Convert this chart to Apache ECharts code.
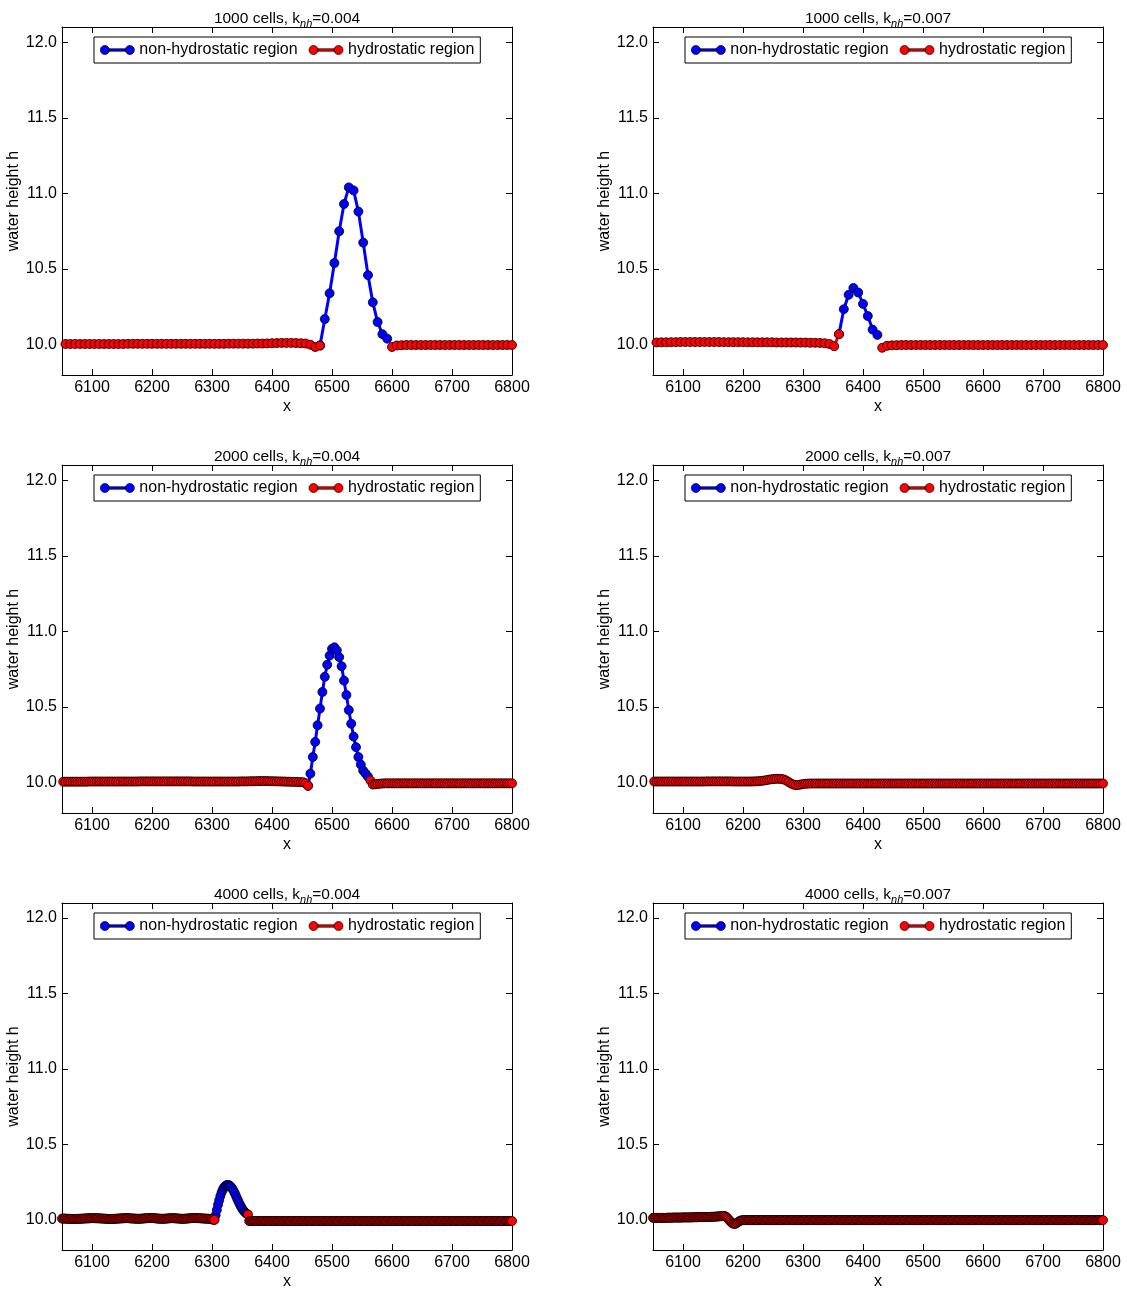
<!DOCTYPE html>
<html><head><meta charset="utf-8">
<script src="https://cdn.jsdelivr.net/npm/echarts@6/dist/echarts.min.js"></script>
<style>html,body{margin:0;padding:0;background:#fff}#chart{width:1127px;height:1291px}</style>
</head><body><div id="chart"></div>
<script>
// ---------- axis / tick definitions ----------
const X_MIN = 6050, X_MAX = 6800;
const Y_MIN = 9.8, Y_MAX = 12.1;
const xTicks = [6100, 6200, 6300, 6400, 6500, 6600, 6700, 6800];
const yTicks = [10.0, 10.5, 11.0, 11.5, 12.0];
const seriesNames = ['non-hydrostatic region', 'hydrostatic region'];
const panelTitles = [
  '{t|1000 cells, k}{sub|nh}{t|=0.004}', '{t|1000 cells, k}{sub|nh}{t|=0.007}',
  '{t|2000 cells, k}{sub|nh}{t|=0.004}', '{t|2000 cells, k}{sub|nh}{t|=0.007}',
  '{t|4000 cells, k}{sub|nh}{t|=0.004}', '{t|4000 cells, k}{sub|nh}{t|=0.007}'
];

// ---------- cell grids (first cell x, spacing) ----------
const grid1000 = [6048, 8];
const grid2000 = [6048, 4];
const grid4000 = [6050, 2];

// ---------- water height h (one value per cell) ----------
const h1000_k004 = [
10.005,10.005,10.005,10.005,10.005,10.005,10.005,10.005,10.005,10.005,
10.005,10.005,10.005,10.005,10.006,10.006,10.006,10.006,10.006,10.006,
10.006,10.006,10.006,10.006,10.006,10.006,10.006,10.006,10.006,10.006,
10.006,10.006,10.006,10.006,10.006,10.007,10.007,10.007,10.007,10.007,
10.007,10.008,10.008,10.009,10.010,10.011,10.012,10.012,10.012,10.011,
10.010,10.008,10.000,9.985,9.995,10.17,10.34,10.54,10.75,10.93,
11.04,11.02,10.88,10.675,10.46,10.28,10.15,10.07,10.04,9.985,
9.995,9.997,9.998,9.998,9.998,9.998,9.998,9.998,9.998,9.998,
9.998,9.998,9.998,9.998,9.998,9.998,9.998,9.998,9.998,9.998,
9.998,9.998,9.998,9.998,9.998
];
const nh1000_k004 = [6480, 6592];

const h1000_k007 = [
10.015,10.015,10.016,10.016,10.017,10.017,10.018,10.018,10.018,10.018,
10.018,10.018,10.018,10.018,10.018,10.017,10.017,10.017,10.017,10.017,
10.016,10.016,10.016,10.016,10.016,10.016,10.015,10.015,10.015,10.015,
10.015,10.014,10.014,10.013,10.013,10.012,10.010,10.005,9.990,10.070,
10.235,10.33,10.375,10.345,10.27,10.19,10.10,10.065,9.980,9.993,
9.996,9.997,9.998,9.998,9.998,9.998,9.998,9.998,9.998,9.998,
9.998,9.998,9.998,9.998,9.998,9.998,9.998,9.998,9.998,9.998,
9.998,9.998,9.998,9.998,9.998,9.998,9.998,9.998,9.998,9.998,
9.998,9.998,9.998,9.998,9.998,9.998,9.998,9.998,9.998,9.998,
9.998,9.998,9.998,9.998,9.998
];
const nh1000_k007 = [6360, 6424];

const h2000_k004 = [
10.007,10.007,10.007,10.007,10.007,10.007,10.007,10.007,10.007,10.007,
10.007,10.007,10.008,10.008,10.008,10.008,10.008,10.008,10.008,10.008,
10.008,10.008,10.008,10.008,10.008,10.008,10.008,10.008,10.008,10.008,
10.008,10.008,10.008,10.009,10.009,10.009,10.009,10.009,10.009,10.009,
10.009,10.009,10.009,10.009,10.009,10.009,10.009,10.009,10.009,10.009,
10.009,10.009,10.009,10.009,10.009,10.008,10.008,10.008,10.008,10.008,
10.008,10.008,10.008,10.008,10.008,10.008,10.008,10.008,10.008,10.008,
10.008,10.008,10.008,10.008,10.008,10.009,10.009,10.009,10.009,10.010,
10.010,10.010,10.011,10.011,10.011,10.011,10.011,10.010,10.010,10.010,
10.009,10.009,10.008,10.008,10.007,10.007,10.006,10.006,10.005,10.005,
10.004,10.003,9.997,9.980,10.06,10.17,10.27,10.38,10.49,10.60,
10.70,10.78,10.84,10.885,10.895,10.875,10.83,10.77,10.675,10.58,
10.48,10.39,10.305,10.235,10.17,10.12,10.08,10.06,10.04,10.015,
9.988,9.990,9.992,9.994,9.995,9.996,9.996,9.996,9.996,9.996,
9.996,9.996,9.996,9.996,9.996,9.996,9.996,9.996,9.996,9.996,
9.996,9.996,9.996,9.996,9.996,9.996,9.996,9.996,9.996,9.996,
9.996,9.996,9.996,9.996,9.996,9.996,9.996,9.996,9.996,9.996,
9.996,9.996,9.996,9.996,9.996,9.996,9.996,9.996,9.996,9.996,
9.996,9.996,9.996,9.996,9.996,9.996,9.996,9.996,9.996
];
const nh2000_k004 = [6460, 6560];

const h2000_k007 = [
10.008,10.008,10.008,10.008,10.008,10.008,10.008,10.008,10.008,10.008,
10.008,10.008,10.008,10.008,10.008,10.008,10.008,10.008,10.008,10.008,
10.008,10.008,10.008,10.009,10.009,10.009,10.009,10.009,10.009,10.009,
10.009,10.009,10.009,10.009,10.008,10.008,10.008,10.008,10.008,10.008,
10.008,10.008,10.009,10.009,10.010,10.011,10.013,10.015,10.018,10.021,
10.023,10.025,10.026,10.026,10.025,10.022,10.015,10.005,9.995,9.988,
9.984,9.985,9.988,9.991,9.993,9.994,9.995,9.995,9.995,9.995,
9.995,9.995,9.995,9.995,9.995,9.995,9.995,9.995,9.995,9.995,
9.995,9.995,9.995,9.995,9.995,9.995,9.995,9.995,9.995,9.995,
9.995,9.995,9.995,9.995,9.995,9.995,9.995,9.995,9.995,9.995,
9.995,9.995,9.995,9.995,9.995,9.995,9.995,9.995,9.995,9.995,
9.995,9.995,9.995,9.995,9.995,9.995,9.995,9.995,9.995,9.995,
9.995,9.995,9.995,9.995,9.995,9.995,9.995,9.995,9.995,9.995,
9.995,9.995,9.995,9.995,9.995,9.995,9.995,9.995,9.995,9.995,
9.995,9.995,9.995,9.995,9.995,9.995,9.995,9.995,9.995,9.995,
9.995,9.995,9.995,9.995,9.995,9.995,9.995,9.995,9.995,9.995,
9.995,9.995,9.995,9.995,9.995,9.995,9.995,9.995,9.995,9.995,
9.995,9.995,9.995,9.995,9.995,9.995,9.995,9.995,9.995,9.995,
9.995,9.995,9.995,9.995,9.995,9.995,9.995,9.995,9.995
];
const nh2000_k007 = null;

const h4000_k004 = [
10.008,10.008,10.008,10.008,10.007,10.007,10.007,10.006,10.006,10.006,
10.006,10.006,10.006,10.006,10.007,10.007,10.007,10.008,10.008,10.009,
10.009,10.010,10.010,10.010,10.011,10.011,10.011,10.011,10.011,10.010,
10.010,10.010,10.009,10.009,10.008,10.008,10.007,10.007,10.006,10.006,
10.006,10.006,10.006,10.006,10.007,10.007,10.008,10.008,10.009,10.009,
10.010,10.010,10.011,10.011,10.011,10.011,10.010,10.010,10.009,10.009,
10.008,10.008,10.007,10.007,10.007,10.007,10.008,10.008,10.009,10.010,
10.010,10.011,10.012,10.012,10.012,10.012,10.011,10.011,10.010,10.009,
10.008,10.008,10.007,10.007,10.007,10.007,10.008,10.008,10.009,10.010,
10.010,10.011,10.011,10.011,10.010,10.010,10.009,10.008,10.008,10.007,
10.007,10.007,10.007,10.008,10.008,10.009,10.010,10.011,10.011,10.012,
10.012,10.012,10.012,10.011,10.011,10.010,10.010,10.009,10.009,10.008,
10.008,10.007,10.007,10.006,10.005,10.003,10.001,10.000,
10.03,10.065,10.10,10.13,10.158,10.182,10.20,10.214,10.223,10.229,
10.231,10.23,10.225,10.217,10.206,10.192,10.176,10.158,10.14,10.122,
10.105,10.09,10.076,10.064,10.054,10.046,10.04,
10.035,9.992,
9.992,9.992,9.992,9.992,9.992,9.992,9.992,9.992,9.992,9.992,
9.992,9.992,9.992,9.992,9.992,9.992,9.992,9.992,9.992,9.992,
9.992,9.992,9.992,9.992,9.992,9.992,9.992,9.992,9.992,9.992,
9.992,9.992,9.992,9.992,9.992,9.992,9.992,9.992,9.992,9.992,
9.992,9.992,9.992,9.992,9.992,9.992,9.992,9.992,9.992,9.992,
9.992,9.992,9.992,9.992,9.992,9.992,9.992,9.992,9.992,9.992,
9.992,9.992,9.992,9.992,9.992,9.992,9.992,9.992,9.992,9.992,
9.992,9.992,9.992,9.992,9.992,9.992,9.992,9.992,9.992,9.992,
9.992,9.992,9.992,9.992,9.992,9.992,9.992,9.992,9.992,9.992,
9.992,9.992,9.992,9.992,9.992,9.992,9.992,9.992,9.992,9.992,
9.992,9.992,9.992,9.992,9.992,9.992,9.992,9.992,9.992,9.992,
9.992,9.992,9.992,9.992,9.992,9.992,9.992,9.992,9.992,9.992,
9.992,9.992,9.992,9.992,9.992,9.992,9.992,9.992,9.992,9.992,
9.992,9.992,9.992,9.992,9.992,9.992,9.992,9.992,9.992,9.992,
9.992,9.992,9.992,9.992,9.992,9.992,9.992,9.992,9.992,9.992,
9.992,9.992,9.992,9.992,9.992,9.992,9.992,9.992,9.992,9.992,
9.992,9.992,9.992,9.992,9.992,9.992,9.992,9.992,9.992,9.992,
9.992,9.992,9.992,9.992,9.992,9.992,9.992,9.992,9.992,9.992,
9.992,9.992,9.992,9.992,9.992,9.992,9.992,9.992,9.992,9.992,
9.992,9.992,9.992,9.992,9.992,9.992,9.992,9.992,9.992,9.992,
9.992,9.992,9.992,9.992,9.992,9.992,9.992,9.992,9.992,9.992,
9.992,9.992,9.992,9.992,9.992,9.992,9.992,9.992,9.992
];
const nh4000_k004 = [6304, 6358];

const h4000_k007 = [
10.013,10.013,10.013,10.013,10.013,10.013,10.013,10.013,10.013,10.013,
10.013,10.013,10.014,10.014,10.014,10.014,10.014,10.015,10.015,10.015,
10.015,10.015,10.015,10.015,10.015,10.016,10.016,10.016,10.016,10.016,
10.016,10.016,10.016,10.017,10.017,10.017,10.017,10.017,10.018,10.018,
10.018,10.018,10.018,10.018,10.019,10.019,10.019,10.019,10.020,10.020,
10.020,10.021,10.021,10.022,10.022,10.023,10.024,10.024,10.025,10.025,
10.024,10.020,10.012,10.003,9.994,9.985,9.978,9.974,9.973,9.975,
9.980,9.986,9.991,9.995,9.997,9.998,9.998,9.998,9.998,9.998,
9.998,9.998,9.998,9.998,9.998,9.998,9.998,9.998,9.998,9.998,
9.998,9.998,9.998,9.998,9.998,9.998,9.998,9.998,9.998,9.998,
9.998,9.998,9.998,9.998,9.998,9.998,9.998,9.998,9.998,9.998,
9.998,9.998,9.998,9.998,9.998,9.998,9.998,9.998,9.998,9.998,
9.998,9.998,9.998,9.998,9.998,9.998,9.998,9.998,9.998,9.998,
9.998,9.998,9.998,9.998,9.998,9.998,9.998,9.998,9.998,9.998,
9.998,9.998,9.998,9.998,9.998,9.998,9.998,9.998,9.998,9.998,
9.998,9.998,9.998,9.998,9.998,9.998,9.998,9.998,9.998,9.998,
9.998,9.998,9.998,9.998,9.998,9.998,9.998,9.998,9.998,9.998,
9.998,9.998,9.998,9.998,9.998,9.998,9.998,9.998,9.998,9.998,
9.998,9.998,9.998,9.998,9.998,9.998,9.998,9.998,9.998,9.998,
9.998,9.998,9.998,9.998,9.998,9.998,9.998,9.998,9.998,9.998,
9.998,9.998,9.998,9.998,9.998,9.998,9.998,9.998,9.998,9.998,
9.998,9.998,9.998,9.998,9.998,9.998,9.998,9.998,9.998,9.998,
9.998,9.998,9.998,9.998,9.998,9.998,9.998,9.998,9.998,9.998,
9.998,9.998,9.998,9.998,9.998,9.998,9.998,9.998,9.998,9.998,
9.998,9.998,9.998,9.998,9.998,9.998,9.998,9.998,9.998,9.998,
9.998,9.998,9.998,9.998,9.998,9.998,9.998,9.998,9.998,9.998,
9.998,9.998,9.998,9.998,9.998,9.998,9.998,9.998,9.998,9.998,
9.998,9.998,9.998,9.998,9.998,9.998,9.998,9.998,9.998,9.998,
9.998,9.998,9.998,9.998,9.998,9.998,9.998,9.998,9.998,9.998,
9.998,9.998,9.998,9.998,9.998,9.998,9.998,9.998,9.998,9.998,
9.998,9.998,9.998,9.998,9.998,9.998,9.998,9.998,9.998,9.998,
9.998,9.998,9.998,9.998,9.998,9.998,9.998,9.998,9.998,9.998,
9.998,9.998,9.998,9.998,9.998,9.998,9.998,9.998,9.998,9.998,
9.998,9.998,9.998,9.998,9.998,9.998,9.998,9.998,9.998,9.998,
9.998,9.998,9.998,9.998,9.998,9.998,9.998,9.998,9.998,9.998,
9.998,9.998,9.998,9.998,9.998,9.998,9.998,9.998,9.998,9.998,
9.998,9.998,9.998,9.998,9.998,9.998,9.998,9.998,9.998,9.998,
9.998,9.998,9.998,9.998,9.998,9.998
];
const nh4000_k007 = null;

// ---------- build chart ----------
const panels = [
  { g: grid1000, h: h1000_k004, nh: nh1000_k004 },
  { g: grid1000, h: h1000_k007, nh: nh1000_k007 },
  { g: grid2000, h: h2000_k004, nh: nh2000_k004 },
  { g: grid2000, h: h2000_k007, nh: nh2000_k007 },
  { g: grid4000, h: h4000_k004, nh: nh4000_k004 },
  { g: grid4000, h: h4000_k007, nh: nh4000_k007 }
];

const FONT = '"Liberation Sans", Arial, sans-serif';
const COL_LEFT = [62, 653], ROW_TOP = [27, 465, 903], GW = 450, GH = 348;
const BLUE = '#0000ff', RED = '#ff0000';
const ICON = 'path://M0,4.5A4.5,4.5 0 1 1 9,4.5A4.5,4.5 0 1 1 0,4.5ZM25,4.5A4.5,4.5 0 1 1 34,4.5A4.5,4.5 0 1 1 25,4.5ZM8.5,3.3L25.5,3.3L25.5,5.7L8.5,5.7Z';

const option = {
  animation: false, backgroundColor: '#fff',
  grid: [], xAxis: [], yAxis: [], series: [], legend: [], graphic: []
};

const tickStyle = { color: '#000', width: 1 };

panels.forEach((p, i) => {
  const left = COL_LEFT[i % 2], top = ROW_TOP[Math.floor(i / 2)];
  option.grid.push({ left, top, width: GW, height: GH });

  const xBase = { type: 'value', gridIndex: i, min: X_MIN, max: X_MAX, splitLine: { show: false },
    axisLine: { show: true, onZero: false, lineStyle: { color: '#000', width: 1 } },
    axisTick: { show: true, inside: true, length: 6, customValues: xTicks, lineStyle: tickStyle } };
  option.xAxis.push(Object.assign({}, xBase, { position: 'bottom',
    axisLabel: { customValues: xTicks, color: '#000', fontSize: 16, fontFamily: FONT, margin: 5,
      formatter: v => String(Math.round(v)) },
    name: 'x', nameLocation: 'middle', nameGap: 24,
    nameTextStyle: { color: '#000', fontSize: 16, fontFamily: FONT } }));
  option.xAxis.push(Object.assign({}, xBase, { position: 'top', axisLabel: { show: false } }));

  const yBase = { type: 'value', gridIndex: i, min: Y_MIN, max: Y_MAX, splitLine: { show: false },
    axisLine: { show: true, onZero: false, lineStyle: { color: '#000', width: 1 } },
    axisTick: { show: true, inside: true, length: 6, customValues: yTicks, lineStyle: tickStyle } };
  option.yAxis.push(Object.assign({}, yBase, { position: 'left',
    axisLabel: { customValues: yTicks, color: '#000', fontSize: 16, fontFamily: FONT, margin: 5,
      formatter: v => Number(v).toFixed(1) },
    name: 'water height h', nameLocation: 'middle', nameGap: 34,
    nameTextStyle: { color: '#000', fontSize: 16, fontFamily: FONT } }));
  option.yAxis.push(Object.assign({}, yBase, { position: 'right', axisLabel: { show: false } }));

  const blue = [], red = [];
  p.h.forEach((y, k) => {
    const x = p.g[0] + p.g[1] * k;
    const inNh = p.nh && x >= p.nh[0] && x <= p.nh[1];
    if (inNh) blue.push([x, y]);
    if (!p.nh || x <= p.nh[0] || x > p.nh[1]) red.push([x, y]); else red.push([x, null]);
  });
  const common = { type: 'line', xAxisIndex: 2 * i, yAxisIndex: 2 * i, symbol: 'circle', symbolSize: 9,
    showAllSymbol: true, clip: true, connectNulls: false, emphasis: { disabled: true }, silent: true };
  option.series.push(Object.assign({}, common, { name: seriesNames[0], data: blue,
    lineStyle: { color: BLUE, width: 3 }, itemStyle: { color: BLUE, borderColor: '#000', borderWidth: 0.8 } }));
  option.series.push(Object.assign({}, common, { name: seriesNames[1], data: red,
    lineStyle: { color: RED, width: 3 }, itemStyle: { color: RED, borderColor: '#000', borderWidth: 0.8 } }));

  option.legend.push({ left: left + 32, top: top + 10, orient: 'horizontal', selectedMode: false,
    data: seriesNames.map(n => ({ name: n, icon: ICON })),
    itemWidth: 34, itemHeight: 9, itemGap: 11, padding: [5, 6, 5, 6],
    borderColor: '#000', borderWidth: 1, borderRadius: 0, backgroundColor: '#fff',
    itemStyle: { borderColor: '#000', borderWidth: 0.7 },
    textStyle: { color: '#000', fontSize: 16, fontFamily: FONT } });

  option.graphic.push({ type: 'text', x: left + GW / 2, y: top - 8, silent: true,
    style: { text: panelTitles[i], align: 'center', verticalAlign: 'middle', fill: '#000',
      fontSize: 15.5, fontFamily: FONT, lineHeight: 20,
      rich: {
        t: { fontSize: 15.5, fontFamily: FONT, lineHeight: 20, fill: '#000' },
        sub: { fontSize: 11, fontStyle: 'italic', fontFamily: FONT, verticalAlign: 'bottom', lineHeight: 11, fill: '#000' }
      } } });
});

const chart = echarts.init(document.getElementById('chart'), null, { renderer: 'canvas' });
chart.setOption(option);
</script></body></html>
